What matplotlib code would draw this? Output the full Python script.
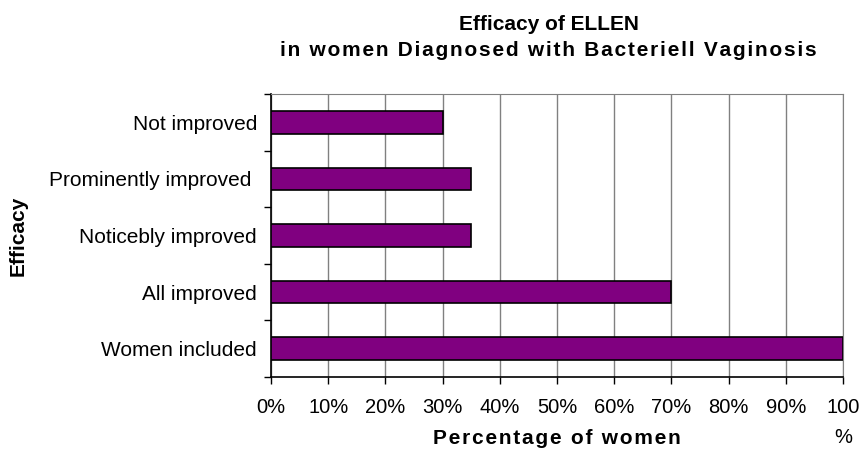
import numpy as np
import matplotlib.pyplot as plt
from matplotlib.ticker import FixedLocator

plt.rcParams['font.family'] = ['Liberation Sans', 'DejaVu Sans']

# data (bottom to top)
categories = ['Women included', 'All improved', 'Noticebly improved',
              'Prominently improved ', 'Not improved']
values = [100, 70, 35, 35, 30]
xticks = [0, 10, 20, 30, 40, 50, 60, 70, 80, 90, 100]
xticklabels = ['0%', '10%', '20%', '30%', '40%', '50%', '60%', '70%',
               '80%', '90%', '100\n%']


def spaced(s):
    # the original title text is rendered with loose letter spacing
    return '\u200a'.join(s)


fig = plt.figure(figsize=(8.61, 4.55), dpi=100)
ax = fig.add_axes([271 / 861, 1 - 377 / 455, 572 / 861, 283 / 455])

y = np.arange(len(categories))
ax.barh(y, values, height=0.4, color='#800080', edgecolor='black',
        linewidth=1.2, zorder=3)

ax.set_xlim(0, 100)
ax.set_ylim(-0.5, len(categories) - 0.5)

# vertical gridlines
ax.set_xticks(xticks)
ax.set_xticklabels(xticklabels, fontsize=14.5, linespacing=1.75, va='top')
ax.grid(axis='x', color='#808080', linewidth=1, zorder=0)

# category labels, ticks between categories
ax.set_yticks(y)
ax.set_yticklabels(categories, fontsize=15)
ax.tick_params(axis='y', which='major', length=0, pad=10)
ax.yaxis.set_minor_locator(FixedLocator(np.arange(-0.5, len(categories), 1)))
ax.tick_params(axis='y', which='minor', length=5, width=1, color='black',
               direction='out')
ax.tick_params(axis='x', length=5, width=1, direction='out', pad=10)

for side in ['top', 'right']:
    ax.spines[side].set_color('#808080')
for side in ['left', 'bottom']:
    ax.spines[side].set_color('black')
    ax.spines[side].set_linewidth(1.2)

ax.set_xlabel(spaced('Percentage of women'), fontsize=15, fontweight='bold')
ax.xaxis.set_label_coords(0.5, -(438 - 377) / 283)
ax.xaxis.label.set_va('center')
ax.set_ylabel('Efficacy', fontsize=15, fontweight='bold')
ax.yaxis.set_label_coords(-(271 - 18) / 572, 0.5)
ax.yaxis.label.set_va('center')

fig.text(549 / 861, 1 - 25 / 455, 'Efficacy of ELLEN',
         ha='center', va='center', fontsize=15, fontweight='bold')
fig.text(548 / 861, 1 - 51 / 455,
         spaced('in women Diagnosed with Bacteriell Vaginosis'),
         ha='center', va='center', fontsize=15, fontweight='bold')

fig.savefig('out.png', dpi=100)
